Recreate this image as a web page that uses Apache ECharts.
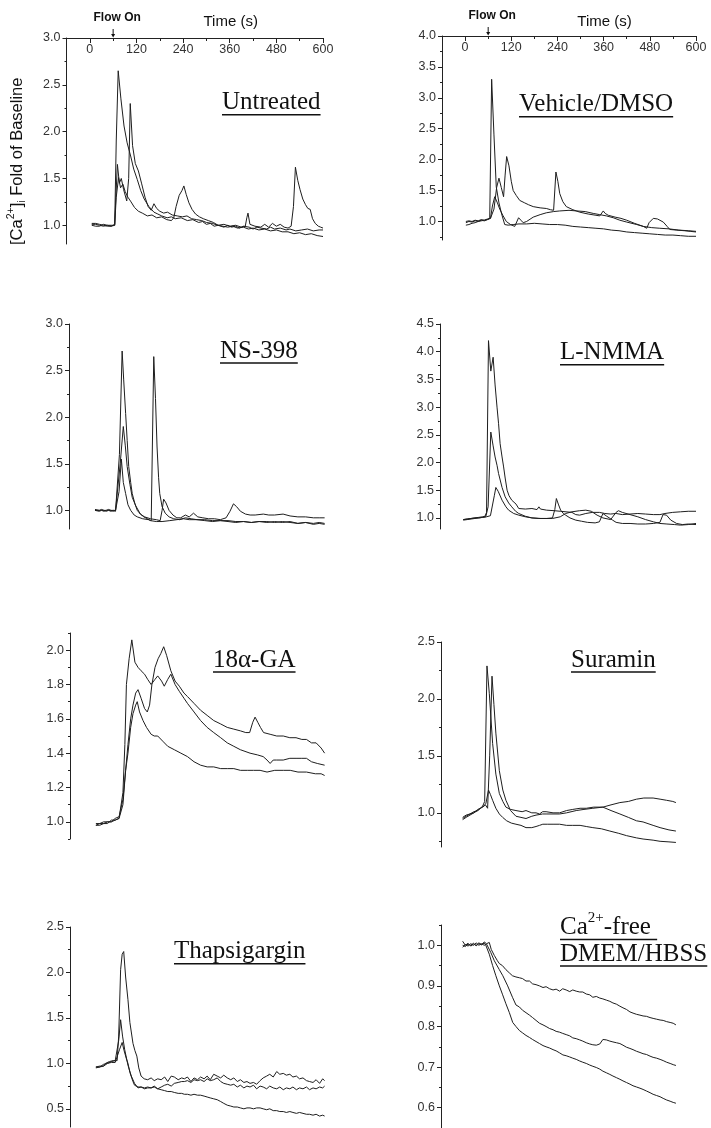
<!DOCTYPE html>
<html>
<head>
<meta charset="utf-8">
<script src="https://cdn.jsdelivr.net/npm/echarts@6/dist/echarts.min.js"></script>
<style>
html,body{margin:0;padding:0;background:#fff;}
#chart{width:711px;height:1128px;}
</style>
</head>
<body>
<div id="chart"></div>
<script>
// time axis ticks (s)
var timeTicks = [0, 120, 240, 360, 480, 600];
var timeMinor = [60, 180, 300, 420, 540];

// y ticks per panel
var untreatedTicks = [1.0, 1.5, 2.0, 2.5, 3.0];
var untreatedMinor = [1.25, 1.75, 2.25, 2.75];
var vehicleTicks = [1.0, 1.5, 2.0, 2.5, 3.0, 3.5, 4.0];
var vehicleMinor = [0.75, 1.25, 1.75, 2.25, 2.75, 3.25, 3.75];
var ns398Ticks = [1.0, 1.5, 2.0, 2.5, 3.0];
var ns398Minor = [1.25, 1.75, 2.25, 2.75];
var lnmmaTicks = [1.0, 1.5, 2.0, 2.5, 3.0, 3.5, 4.0, 4.5];
var lnmmaMinor = [1.25, 1.75, 2.25, 2.75, 3.25, 3.75, 4.25];
var gaTicks = [1.0, 1.2, 1.4, 1.6, 1.8, 2.0];
var gaMinor = [0.9, 1.1, 1.3, 1.5, 1.7, 1.9, 2.1];
var suraminTicks = [1.0, 1.5, 2.0, 2.5];
var suraminMinor = [0.75, 1.25, 1.75, 2.25];
var thapsTicks = [0.5, 1.0, 1.5, 2.0, 2.5];
var thapsMinor = [0.75, 1.25, 1.75, 2.25];
var cafreeTicks = [0.6, 0.7, 0.8, 0.9, 1.0];
var cafreeMinor = [0.65, 0.75, 0.85, 0.95, 1.05];

// traces: [time s, fold of baseline]
var untreatedA = [[5,1.02],[10,1.01],[15,1.02],[20,1.0],[25,1.01],[30,0.99],[35,1.0],[40,1.01],[45,0.99],[50,1.0],[55,0.99],[60,1.0],[64,1.01],[68,1.9],[73,2.65],[80,2.35],[88,2.06],[96,1.88],[105,1.74],[113,1.6],[122,1.49],[131,1.37],[140,1.28],[152,1.2],[165,1.14],[175,1.12],[185,1.1],[199,1.08],[210,1.09],[220,1.07],[235,1.08],[251,1.05],[265,1.06],[280,1.03],[290,1.04],[300,1.01],[310,1.02],[320,0.99],[330,1.0],[345,0.98],[355,1.0],[365,0.98],[375,0.99],[385,0.97],[395,0.99],[410,0.98],[420,0.96],[430,0.98],[440,0.97],[455,0.96],[465,0.98],[475,0.96],[490,0.97],[505,0.95],[515,0.96],[530,0.94],[545,0.95],[560,0.96],[575,0.94],[590,0.95],[600,0.95]];
var untreatedB = [[5,1.01],[10,1.0],[15,1.01],[20,0.99],[25,1.0],[30,1.01],[35,0.99],[40,1.0],[45,1.0],[50,0.99],[55,1.0],[60,0.99],[64,1.0],[67,1.3],[71,1.65],[76,1.45],[81,1.5],[87,1.38],[95,1.26],[100,1.5],[104,2.3],[110,1.85],[117,1.66],[125,1.58],[133,1.45],[142,1.3],[150,1.2],[158,1.16],[165,1.23],[172,1.18],[180,1.15],[190,1.13],[200,1.14],[212,1.11],[225,1.1],[238,1.09],[250,1.1],[262,1.07],[275,1.06],[288,1.05],[300,1.03],[315,1.02],[330,1.0],[345,1.01],[360,0.99],[375,1.0],[390,0.98],[400,0.99],[404,1.08],[407,1.13],[412,1.01],[425,0.99],[440,0.98],[450,1.01],[460,0.98],[470,1.02],[480,0.99],[490,1.01],[500,0.98],[510,0.97],[518,0.99],[524,1.2],[529,1.62],[535,1.48],[541,1.38],[548,1.28],[555,1.22],[561,1.18],[567,1.17],[573,1.07],[580,1.02],[588,0.99],[594,0.98],[600,0.97]];
var untreatedC = [[5,1.0],[10,1.01],[15,0.99],[20,1.0],[25,0.99],[30,1.0],[35,1.01],[40,0.99],[45,1.0],[50,1.0],[55,0.99],[60,1.0],[64,1.0],[68,1.3],[74,1.51],[79,1.4],[85,1.44],[91,1.36],[98,1.3],[106,1.25],[115,1.19],[125,1.15],[135,1.13],[148,1.1],[160,1.11],[172,1.08],[185,1.09],[198,1.06],[210,1.05],[216,1.08],[222,1.2],[230,1.32],[237,1.37],[242,1.42],[248,1.33],[255,1.24],[263,1.17],[272,1.12],[282,1.09],[292,1.07],[305,1.05],[318,1.03],[330,1.0],[342,0.99],[355,0.98],[368,0.99],[380,0.97],[395,0.98],[408,0.96],[420,0.97],[435,0.95],[450,0.96],[465,0.94],[480,0.95],[495,0.93],[510,0.93],[525,0.91],[540,0.92],[555,0.9],[570,0.91],[585,0.89],[600,0.88]];

var vehicleA = [[2,0.94],[10,0.95],[18,0.97],[26,0.98],[34,1.0],[42,1.01],[50,1.02],[58,1.03],[64,1.05],[69,3.3],[75,2.4],[81,1.56],[88,1.3],[95,1.12],[103,0.95],[112,0.94],[125,0.95],[140,0.96],[160,0.96],[180,0.97],[200,0.96],[220,0.95],[240,0.95],[260,0.94],[280,0.92],[300,0.91],[320,0.9],[340,0.89],[360,0.88],[380,0.86],[400,0.85],[420,0.83],[440,0.82],[460,0.81],[480,0.8],[500,0.79],[520,0.78],[540,0.78],[560,0.77],[580,0.76],[600,0.76]];
var vehicleB = [[2,0.98],[10,1.0],[18,0.99],[26,1.01],[34,1.0],[42,1.02],[50,1.01],[58,1.03],[66,1.05],[71,1.25],[77,1.4],[84,1.3],[90,1.2],[98,1.1],[107,1.0],[118,0.95],[129,0.92],[134,0.95],[139,1.06],[145,1.02],[151,0.98],[160,1.0],[177,1.07],[195,1.11],[211,1.14],[230,1.16],[246,1.17],[270,1.18],[290,1.17],[312,1.16],[333,1.13],[350,1.11],[367,1.09],[385,1.06],[402,1.02],[420,0.99],[446,0.95],[463,0.92],[472,0.89],[478,0.98],[489,1.05],[500,1.04],[515,0.99],[525,0.92],[532,0.87],[550,0.86],[570,0.85],[585,0.84],[600,0.83]];
var vehicleC = [[2,1.0],[10,1.01],[18,1.0],[26,1.02],[34,1.01],[42,1.03],[50,1.02],[58,1.04],[66,1.05],[75,1.2],[82,1.55],[88,1.7],[94,1.55],[100,1.4],[104,1.75],[108,2.05],[114,1.9],[120,1.65],[125,1.5],[133,1.42],[142,1.34],[155,1.3],[165,1.27],[177,1.24],[195,1.22],[211,1.21],[222,1.19],[230,1.18],[236,1.8],[241,1.65],[246,1.45],[254,1.32],[263,1.24],[280,1.19],[298,1.15],[320,1.12],[340,1.1],[350,1.09],[355,1.12],[359,1.17],[364,1.13],[372,1.1],[390,1.07],[405,1.05],[420,1.02],[440,0.97],[463,0.92],[485,0.9],[506,0.89],[530,0.88],[555,0.86],[580,0.85],[600,0.84]];

var ns398A = [[7,1.0],[12,0.99],[18,1.0],[24,1.0],[30,0.99],[36,1.0],[42,1.0],[48,0.99],[54,1.0],[60,0.99],[64.5,0.97],[70,1.6],[77,2.71],[81,2.4],[86,2.04],[90,1.75],[94,1.47],[99,1.3],[103,1.18],[110,1.07],[116,1.0],[124,0.96],[133,0.93],[142,0.91],[150,0.89],[165,0.88],[180,0.88],[200,0.89],[218,0.9],[235,0.91],[250,0.9],[270,0.9],[290,0.89],[310,0.88],[330,0.89],[350,0.88],[370,0.87],[390,0.88],[410,0.87],[430,0.88],[450,0.87],[470,0.88],[490,0.87],[510,0.88],[530,0.86],[550,0.87],[570,0.86],[585,0.87],[599,0.86]];
var ns398B = [[7,1.0],[12,1.0],[18,0.99],[24,1.0],[30,1.0],[36,0.99],[42,1.0],[48,1.0],[54,0.99],[60,1.0],[65,1.0],[72,1.5],[80,1.9],[85,1.7],[90,1.47],[97,1.28],[103,1.14],[112,1.05],[124,0.96],[135,0.93],[150,0.91],[165,0.9],[175,0.89],[180,1.0],[184,1.12],[190,1.08],[198,1.0],[208,0.95],[218,0.92],[228,0.92],[240,0.95],[250,0.93],[261,0.97],[272,0.93],[285,0.92],[300,0.91],[315,0.91],[330,0.9],[345,0.92],[355,0.99],[364,1.07],[372,1.04],[382,0.99],[395,0.96],[407,0.95],[420,0.95],[441,0.96],[455,0.95],[470,0.95],[492,0.96],[510,0.94],[530,0.93],[550,0.93],[570,0.92],[585,0.92],[599,0.92]];
var ns398C = [[7,1.01],[12,1.0],[18,1.0],[24,1.01],[30,1.0],[36,1.0],[42,1.01],[48,1.0],[54,1.0],[60,1.0],[64,0.98],[69,1.2],[75,1.55],[80,1.3],[86,1.18],[92,1.06],[99,1.0],[108,0.95],[116,0.93],[130,0.91],[145,0.9],[152,0.89],[158.5,2.65],[163,2.2],[167,1.68],[171,1.35],[174,1.18],[180,1.04],[188,0.97],[198,0.93],[210,0.91],[225,0.9],[240,0.92],[255,0.91],[270,0.9],[290,0.9],[310,0.89],[330,0.89],[350,0.89],[370,0.88],[390,0.88],[410,0.87],[430,0.88],[450,0.88],[470,0.87],[490,0.88],[510,0.87],[530,0.86],[550,0.87],[570,0.85],[585,0.86],[599,0.85]];

var lnmmaA = [[0,0.97],[10,0.98],[20,0.99],[30,1.0],[40,1.01],[50,1.02],[56,1.03],[60,1.1],[65,4.2],[71,3.65],[77,3.9],[82,3.4],[87,3.0],[91,2.7],[95,2.34],[100,2.1],[104,1.92],[108,1.72],[113,1.5],[118,1.4],[125,1.32],[130,1.35],[136,1.25],[143,1.17],[160,1.16],[177,1.17],[190,1.15],[195,1.2],[199,1.16],[215,1.14],[235,1.13],[250,1.12],[265,1.11],[280,1.1],[290,1.06],[300,1.05],[316,1.08],[333,1.1],[351,1.1],[365,1.08],[380,1.07],[394,1.08],[410,1.06],[430,1.07],[450,1.08],[470,1.07],[490,1.06],[507,1.06],[520,1.08],[540,1.1],[560,1.11],[580,1.12],[600,1.12]];
var lnmmaB = [[0,0.96],[10,0.97],[20,0.98],[30,0.99],[40,1.0],[50,1.01],[58,1.02],[64,1.2],[71,2.55],[77,2.3],[82,2.1],[87,1.95],[91,1.8],[100,1.55],[108,1.38],[117,1.27],[125,1.2],[135,1.12],[143,1.08],[160,1.03],[177,1.0],[195,0.99],[215,0.99],[230,1.0],[236,1.15],[240,1.35],[245,1.25],[251,1.14],[258,1.08],[264,1.05],[275,1.0],[290,0.96],[305,0.94],[320,0.92],[340,0.91],[351,0.93],[360,1.08],[370,1.03],[385,0.96],[394,0.92],[410,0.9],[430,0.9],[450,0.89],[470,0.89],[490,0.9],[507,0.92],[515,1.06],[524,1.05],[535,0.96],[550,0.9],[565,0.88],[580,0.89],[600,0.88]];
var lnmmaC = [[0,0.97],[10,0.98],[20,0.99],[30,1.0],[40,1.0],[50,1.01],[60,1.02],[70,1.04],[74,1.06],[80,1.4],[84,1.55],[90,1.48],[100,1.32],[110,1.2],[117,1.14],[130,1.08],[143,1.05],[160,1.02],[177,1.0],[200,0.99],[230,0.99],[250,1.02],[264,1.08],[280,1.11],[300,1.13],[316,1.14],[330,1.12],[345,1.05],[360,1.0],[380,0.97],[394,1.1],[400,1.13],[410,1.1],[430,1.06],[450,1.02],[470,0.97],[490,0.93],[507,0.9],[525,0.89],[545,0.88],[560,0.87],[580,0.88],[600,0.9]];

var gaA = [[7,0.98],[12,0.99],[17,0.98],[22,0.99],[27,0.99],[32,1.0],[37,0.99],[42,1.0],[47,1.01],[52,1.0],[57,1.01],[62,1.02],[67,1.02],[71,1.03],[77,1.17],[82,1.45],[86,1.8],[93,1.95],[100,2.06],[108,1.93],[116,1.9],[124,1.88],[133,1.86],[141,1.83],[150,1.8],[154,1.79],[160,1.83],[167,1.85],[171,1.85],[177,1.82],[184,1.79],[193,1.83],[201,1.86],[212,1.8],[223,1.76],[235,1.72],[244,1.69],[261,1.64],[278,1.59],[295,1.55],[312,1.52],[330,1.49],[347,1.46],[364,1.44],[381,1.42],[406,1.4],[425,1.39],[440,1.38],[450,1.36],[458,1.34],[466,1.36],[475,1.36],[492,1.36],[509,1.37],[525,1.37],[540,1.37],[552,1.37],[565,1.35],[580,1.34],[599,1.33]];
var gaB = [[7,0.98],[12,0.98],[17,0.99],[22,0.98],[27,1.0],[32,0.99],[37,1.0],[42,1.0],[47,1.0],[52,1.01],[57,1.01],[62,1.01],[67,1.02],[71,1.03],[77,1.1],[84,1.3],[90,1.45],[97,1.6],[103,1.68],[110,1.75],[116,1.77],[124,1.72],[133,1.66],[140,1.64],[146,1.68],[152,1.8],[160,1.9],[168,1.95],[175,1.98],[182.5,2.02],[190,1.97],[201,1.88],[212,1.82],[223,1.79],[235,1.75],[244,1.73],[261,1.69],[278,1.65],[295,1.62],[312,1.59],[330,1.57],[347,1.55],[364,1.54],[381,1.53],[395,1.52],[405,1.52],[413,1.58],[419,1.61],[426,1.58],[433,1.55],[441,1.52],[458,1.51],[475,1.5],[492,1.5],[509,1.49],[525,1.49],[540,1.48],[552,1.48],[565,1.46],[577,1.46],[590,1.43],[599,1.4]];
var gaC = [[7,0.99],[12,0.98],[17,0.99],[22,0.99],[27,0.99],[32,1.0],[37,1.0],[42,1.01],[47,1.0],[52,1.01],[57,1.02],[62,1.02],[67,1.03],[71,1.03],[77,1.13],[84,1.3],[90,1.4],[97,1.55],[103,1.63],[110,1.68],[114,1.7],[120,1.64],[129,1.59],[138,1.55],[150,1.51],[158,1.5],[167,1.5],[180,1.47],[193,1.44],[210,1.42],[227,1.4],[244,1.38],[261,1.35],[278,1.33],[295,1.32],[312,1.32],[330,1.31],[347,1.31],[364,1.31],[381,1.3],[400,1.3],[415,1.3],[432,1.3],[450,1.29],[470,1.3],[492,1.3],[510,1.3],[530,1.29],[552,1.29],[575,1.28],[590,1.28],[599,1.27]];

var suraminA = [[-4,0.95],[5,0.97],[15,0.99],[25,1.0],[35,1.03],[42,1.04],[48,1.06],[53,1.1],[59,2.29],[65,2.05],[73.6,1.61],[82,1.34],[91,1.17],[100,1.1],[108,1.05],[120,1.03],[134,1.02],[150,1.01],[160,1.02],[175,1.0],[186,1.0],[195,0.99],[203,1.01],[212,1.01],[230,1.0],[247,1.0],[265,1.02],[281,1.03],[300,1.04],[316,1.04],[335,1.05],[359,1.05],[380,1.07],[403,1.09],[425,1.1],[446,1.12],[465,1.13],[489,1.13],[507,1.12],[524,1.11],[540,1.1],[548,1.09]];
var suraminB = [[-4,0.96],[5,0.98],[15,0.99],[25,1.01],[35,1.02],[42,1.04],[48,1.05],[55,1.07],[60.6,1.04],[66,1.5],[72,2.2],[77,1.95],[82,1.7],[91,1.37],[100,1.2],[108,1.11],[120,1.02],[134,0.97],[147,0.96],[160,0.95],[175,0.97],[186,0.98],[203,0.99],[212,0.99],[230,0.99],[247,0.99],[265,1.0],[290,1.02],[310,1.03],[333,1.04],[359,1.05],[380,1.02],[403,0.99],[425,0.96],[446,0.93],[463,0.92],[489,0.89],[507,0.87],[530,0.85],[548,0.84]];
var suraminC = [[-4,0.94],[5,0.96],[15,0.98],[25,1.0],[35,1.02],[42,1.04],[50,1.06],[56,1.08],[63,1.2],[68,1.16],[73.6,1.11],[82,1.04],[91,0.99],[99.6,0.96],[110,0.93],[122,0.91],[134,0.9],[147,0.89],[160,0.87],[175,0.87],[186,0.88],[195,0.89],[203.5,0.9],[215,0.9],[230,0.9],[247,0.9],[265,0.89],[281,0.89],[300,0.89],[316,0.88],[333,0.87],[355,0.86],[377,0.84],[400,0.82],[420,0.8],[446,0.78],[463,0.77],[489,0.76],[507,0.75],[530,0.745],[548,0.74]];

var thapsA = [[7,0.96],[12,0.95],[17,0.97],[22,0.98],[27,0.97],[32,1.0],[37,0.99],[42,1.02],[47,1.0],[52,1.03],[57,1.02],[62,1.03],[66,1.3],[71,2.03],[75,2.2],[79,2.23],[84,1.95],[90,1.7],[95,1.45],[103,1.22],[108,1.14],[113,1.08],[118,0.95],[124,0.86],[132,0.83],[141,0.82],[150,0.84],[158,0.81],[167,0.83],[176,0.82],[185,0.85],[193,0.8],[202,0.86],[210,0.85],[220,0.82],[229,0.84],[236,0.83],[244,0.85],[253,0.8],[261,0.84],[270,0.82],[278,0.85],[287,0.83],[295,0.86],[303,0.82],[312,0.88],[321,0.86],[330,0.84],[338,0.87],[347,0.84],[356,0.82],[364,0.84],[373,0.8],[381,0.82],[390,0.79],[398,0.8],[406,0.78],[415,0.79],[423,0.77],[432,0.81],[440,0.84],[449,0.86],[457,0.88],[466,0.85],[475,0.91],[483,0.88],[492,0.89],[500,0.87],[509,0.88],[517,0.85],[526,0.86],[534,0.83],[543,0.84],[552,0.81],[560,0.8],[569,0.79],[577,0.82],[586,0.78],[594,0.83],[599,0.81]];
var thapsB = [[7,0.95],[12,0.96],[17,0.96],[22,0.97],[27,0.99],[32,0.98],[37,1.0],[42,1.01],[47,1.02],[52,1.01],[57,1.03],[62,1.02],[66,1.25],[71,1.48],[76,1.3],[81.6,1.15],[90,0.98],[98.7,0.86],[107,0.78],[116,0.73],[124,0.74],[133,0.72],[141,0.73],[150,0.73],[158,0.75],[167,0.72],[176,0.74],[185,0.76],[193,0.77],[202,0.75],[210,0.78],[220,0.79],[229,0.8],[236,0.8],[244,0.81],[253,0.79],[261,0.82],[270,0.81],[278,0.82],[287,0.8],[295,0.83],[303,0.81],[312,0.82],[321,0.84],[330,0.8],[338,0.78],[347,0.77],[356,0.76],[364,0.77],[373,0.74],[381,0.76],[390,0.73],[398,0.75],[406,0.74],[415,0.76],[423,0.72],[432,0.75],[440,0.74],[449,0.72],[457,0.75],[466,0.73],[475,0.72],[483,0.74],[492,0.71],[500,0.73],[509,0.72],[517,0.74],[526,0.71],[534,0.73],[543,0.72],[552,0.74],[560,0.71],[569,0.73],[577,0.72],[586,0.74],[594,0.73],[599,0.75]];
var thapsC = [[7,0.96],[12,0.95],[17,0.96],[22,0.98],[27,0.97],[32,0.99],[37,1.0],[42,1.0],[47,1.01],[52,1.02],[57,1.01],[62,1.03],[68,1.15],[75,1.23],[80,1.14],[86,1.05],[90,1.0],[95,0.9],[103,0.8],[107,0.76],[116,0.74],[124,0.74],[133,0.73],[141,0.74],[150,0.73],[158,0.74],[167,0.72],[176,0.71],[185,0.7],[193,0.69],[202,0.69],[210,0.68],[220,0.67],[229,0.67],[236,0.66],[244,0.66],[253,0.65],[261,0.66],[270,0.65],[278,0.65],[287,0.64],[295,0.63],[303,0.62],[312,0.61],[321,0.6],[330,0.58],[338,0.56],[347,0.54],[356,0.53],[364,0.52],[373,0.52],[381,0.51],[390,0.5],[398,0.51],[406,0.51],[415,0.5],[423,0.51],[432,0.51],[440,0.5],[449,0.49],[457,0.5],[466,0.48],[475,0.48],[483,0.47],[492,0.47],[500,0.46],[509,0.47],[517,0.46],[526,0.45],[534,0.46],[543,0.45],[552,0.44],[560,0.44],[569,0.43],[577,0.44],[586,0.42],[594,0.43],[599,0.42]];

var cafreeA = [[-4,1.01],[3,1.0],[10,1.005],[17,0.998],[24,1.003],[31,1.0],[38,1.006],[45,1.002],[52,1.008],[58,1.004],[65,1.007],[70,0.99],[78,0.975],[86,0.962],[91,0.955],[99,0.95],[108,0.94],[117,0.932],[125,0.925],[134,0.922],[143,0.92],[151,0.918],[160,0.912],[169,0.912],[177,0.905],[186,0.903],[195,0.9],[204,0.896],[212,0.898],[221,0.893],[230,0.89],[238,0.892],[247,0.887],[255,0.893],[264,0.89],[273,0.886],[281,0.89],[290,0.887],[299,0.885],[307,0.885],[316,0.88],[325,0.878],[333,0.872],[342,0.874],[351,0.87],[359,0.868],[368,0.865],[377,0.862],[385,0.858],[394,0.855],[403,0.85],[411,0.846],[420,0.842],[429,0.836],[437,0.833],[446,0.83],[455,0.828],[463,0.826],[472,0.825],[481,0.822],[489,0.82],[498,0.818],[507,0.816],[515,0.815],[524,0.812],[533,0.81],[541,0.808],[548,0.804]];
var cafreeB = [[-4,0.995],[3,1.002],[10,0.998],[17,1.004],[24,1.0],[31,1.006],[38,1.0],[45,1.004],[52,1.0],[58,1.003],[61,1.0],[69,0.982],[78,0.962],[91,0.94],[100,0.925],[112.6,0.9],[125,0.872],[134,0.853],[143,0.848],[151,0.84],[160,0.834],[169,0.828],[177,0.822],[186,0.815],[195,0.808],[204,0.804],[212,0.8],[221,0.795],[230,0.792],[238,0.788],[247,0.786],[255,0.783],[264,0.78],[273,0.777],[281,0.772],[290,0.77],[299,0.767],[307,0.764],[316,0.76],[325,0.757],[333,0.755],[342,0.754],[351,0.757],[359,0.768],[368,0.767],[377,0.764],[385,0.762],[394,0.76],[403,0.758],[411,0.754],[420,0.749],[429,0.746],[437,0.743],[446,0.739],[455,0.736],[463,0.733],[472,0.731],[481,0.727],[489,0.724],[498,0.722],[507,0.719],[515,0.716],[524,0.712],[533,0.709],[541,0.706],[548,0.704]];
var cafreeC = [[-4,1.0],[3,0.997],[10,1.003],[17,1.0],[24,1.005],[31,0.999],[38,1.004],[45,1.001],[52,1.006],[56,1.0],[65,0.978],[73.6,0.95],[82,0.925],[91,0.9],[99.6,0.878],[108,0.856],[117,0.834],[125.6,0.81],[134,0.8],[143,0.79],[151.5,0.784],[160,0.778],[169,0.773],[177,0.768],[186,0.763],[195,0.758],[204,0.753],[212,0.75],[221,0.747],[230,0.743],[238,0.74],[247,0.735],[255.5,0.73],[264,0.728],[273,0.725],[281,0.722],[290,0.719],[299,0.715],[307,0.712],[316,0.709],[325,0.705],[333,0.702],[342,0.699],[351,0.695],[359,0.69],[368,0.686],[377,0.682],[385,0.678],[394,0.674],[403,0.67],[411,0.666],[420,0.662],[429,0.658],[437,0.654],[446,0.651],[455,0.648],[463,0.645],[472,0.641],[481,0.637],[489,0.633],[498,0.63],[507,0.627],[515,0.623],[524,0.619],[533,0.616],[541,0.613],[548,0.611]];

var chart = echarts.init(document.getElementById('chart'));

var axisColor = '#222';
var labelColor = '#333';
var lineColor = '#1e1e1e';
var sansFont = '"Liberation Sans", Arial, sans-serif';
var serifFont = '"Liberation Serif", "Times New Roman", serif';

// panel layout
var panels = [
  {grid: {left: 66.5, top: 38, width: 256.5, height: 206}, min: 0.8, max: 3.0, ticks: untreatedTicks, minor: untreatedMinor, top: true, lines: [untreatedA, untreatedB, untreatedC]},
  {grid: {left: 442, top: 36, width: 254, height: 204}, min: 0.7, max: 4.0, ticks: vehicleTicks, minor: vehicleMinor, top: true, lines: [vehicleA, vehicleB, vehicleC]},
  {grid: {left: 69, top: 324, width: 256, height: 205}, min: 0.8, max: 3.0, ticks: ns398Ticks, minor: ns398Minor, lines: [ns398A, ns398B, ns398C]},
  {grid: {left: 440, top: 324, width: 256, height: 205}, min: 0.8, max: 4.5, ticks: lnmmaTicks, minor: lnmmaMinor, lines: [lnmmaA, lnmmaB, lnmmaC]},
  {grid: {left: 70, top: 633, width: 255, height: 206}, min: 0.9, max: 2.1, ticks: gaTicks, minor: gaMinor, lines: [gaA, gaB, gaC]},
  {grid: {left: 441, top: 642, width: 255, height: 205}, min: 0.7, max: 2.5, ticks: suraminTicks, minor: suraminMinor, lines: [suraminA, suraminB, suraminC]},
  {grid: {left: 70, top: 927, width: 255, height: 200}, min: 0.3, max: 2.5, ticks: thapsTicks, minor: thapsMinor, lines: [thapsA, thapsB, thapsC]},
  {grid: {left: 441, top: 925, width: 255, height: 204}, min: 0.55, max: 1.05, ticks: cafreeTicks, minor: cafreeMinor, lines: [cafreeA, cafreeB, cafreeC]}
];

var grids = [], xAxes = [], yAxes = [], series = [], graphics = [];

var measureCtx = document.createElement('canvas').getContext('2d');
var textWidth = function (str, font) {
  measureCtx.font = font;
  return measureCtx.measureText(str).width;
};

panels.forEach(function (p, i) {
  grids.push(p.grid);
  var xi = xAxes.length;
  xAxes.push({
    gridIndex: i, type: 'value', min: -60, max: 600, show: !!p.top, position: 'top',
    axisLine: {show: true, onZero: false, lineStyle: {color: axisColor, width: 1}},
    axisTick: {show: true, inside: true, length: 5, customValues: timeTicks, lineStyle: {color: axisColor}},
    axisLabel: {show: true, inside: true, margin: 5, customValues: timeTicks, color: labelColor, fontSize: 12.5, fontFamily: sansFont},
    splitLine: {show: false}
  });
  if (p.top) {
    // short ticks between majors
    xAxes.push({
      gridIndex: i, type: 'value', min: -60, max: 600, position: 'top',
      axisLine: {show: false, onZero: false},
      axisTick: {show: true, inside: true, length: 3, customValues: timeMinor, lineStyle: {color: axisColor}},
      axisLabel: {show: false},
      splitLine: {show: false}
    });
  }
  var yi = yAxes.length;
  yAxes.push({
    gridIndex: i, type: 'value', min: p.min, max: p.max, position: 'left',
    axisLine: {show: true, onZero: false, lineStyle: {color: axisColor, width: 1}},
    axisTick: {show: true, length: 4, customValues: p.ticks, lineStyle: {color: axisColor}},
    axisLabel: {
      show: true, margin: 6, customValues: p.ticks, color: labelColor, fontSize: 12.5, fontFamily: sansFont,
      formatter: function (v) { return Number(v).toFixed(1); }
    },
    splitLine: {show: false}
  });
  yAxes.push({
    gridIndex: i, type: 'value', min: p.min, max: p.max, position: 'left',
    axisLine: {show: false, onZero: false},
    axisTick: {show: true, length: 2, customValues: p.minor, lineStyle: {color: axisColor}},
    axisLabel: {show: false},
    splitLine: {show: false}
  });
  p.lines.forEach(function (d) {
    series.push({
      type: 'line', xAxisIndex: xi, yAxisIndex: yi, data: d,
      showSymbol: false, symbol: 'none', silent: true,
      lineStyle: {color: lineColor, width: 1}
    });
  });

  if (p.top) {
    // Flow On arrow at t = 60 s
    var ax = p.grid.left + p.grid.width * (60 + 60) / 660;
    var at = p.grid.top;
    graphics.push({type: 'line', shape: {x1: ax, y1: at - 9, x2: ax, y2: at - 3}, style: {stroke: '#111', lineWidth: 1}});
    graphics.push({type: 'polygon', shape: {points: [[ax - 2, at - 4], [ax + 2, at - 4], [ax, at - 0.5]]}, style: {fill: '#111'}});
    graphics.push({type: 'text', x: ax + 4, y: at - 20, style: {text: 'Flow On', font: 'bold 12px ' + sansFont, fill: '#111', align: 'center', verticalAlign: 'middle'}});
    graphics.push({type: 'text', x: p.grid.left + p.grid.width * 0.64, y: 22, style: {text: 'Time (s)', font: '15px ' + sansFont, fill: '#111', align: 'center', verticalAlign: 'middle'}});
  }
});

// panel names, underlined
var panelLabels = [
  {text: 'Untreated', x: 222, y: 102.7},
  {text: 'Vehicle/DMSO', x: 519, y: 104.7},
  {text: 'NS-398', x: 220, y: 351},
  {text: 'L-NMMA', x: 560, y: 352.7},
  {text: '18\u03b1-GA', x: 213, y: 660},
  {text: 'Suramin', x: 571, y: 660},
  {text: 'Thapsigargin', x: 174, y: 951.7},
  {text: 'DMEM/HBSS', x: 560, y: 954}
];
var nameFont = '25px ' + serifFont;
panelLabels.forEach(function (l) {
  var w = textWidth(l.text, nameFont);
  graphics.push({type: 'text', x: l.x, y: l.y, style: {text: l.text, font: nameFont, fill: '#111', align: 'left', verticalAlign: 'middle'}});
  graphics.push({type: 'line', shape: {x1: l.x, y1: l.y + 12, x2: l.x + w, y2: l.y + 12}, style: {stroke: '#111', lineWidth: 1.5}});
});

// Ca2+-free line (superscript done by hand)
var cfX = 560, cfY = 927.4;
var supFont = '15px ' + serifFont;
var wCa = textWidth('Ca', nameFont);
var wSup = textWidth('2+', supFont);
var wFree = textWidth('-free ', nameFont);
graphics.push({type: 'text', x: cfX, y: cfY, style: {text: 'Ca', font: nameFont, fill: '#111', align: 'left', verticalAlign: 'middle'}});
graphics.push({type: 'text', x: cfX + wCa, y: cfY - 9, style: {text: '2+', font: supFont, fill: '#111', align: 'left', verticalAlign: 'middle'}});
graphics.push({type: 'text', x: cfX + wCa + wSup, y: cfY, style: {text: '-free', font: nameFont, fill: '#111', align: 'left', verticalAlign: 'middle'}});
graphics.push({type: 'line', shape: {x1: cfX, y1: cfY + 12, x2: cfX + wCa + wSup + wFree, y2: cfY + 12}, style: {stroke: '#111', lineWidth: 1.5}});

// y title, rotated, built from pieces
var tFont = '16.5px ' + sansFont;
var sFont = '10.5px ' + sansFont;
var parts = [
  {t: '[Ca', f: tFont, dy: 0},
  {t: '2+', f: sFont, dy: -6},
  {t: ']', f: tFont, dy: 0},
  {t: 'i', f: sFont, dy: 5},
  {t: ' Fold of Baseline', f: tFont, dy: 0}
];
var kids = [], px = 0;
parts.forEach(function (pt) {
  kids.push({type: 'text', x: px, y: pt.dy, style: {text: pt.t, font: pt.f, fill: '#111', align: 'left', verticalAlign: 'middle'}});
  px += textWidth(pt.t, pt.f);
});
graphics.push({type: 'group', x: 17, y: 245, rotation: Math.PI / 2, children: kids});

var option = {
  animation: false,
  backgroundColor: '#fff',
  grid: grids,
  xAxis: xAxes,
  yAxis: yAxes,
  series: series,
  graphic: {elements: graphics}
};
chart.setOption(option);
</script>
</body>
</html>
